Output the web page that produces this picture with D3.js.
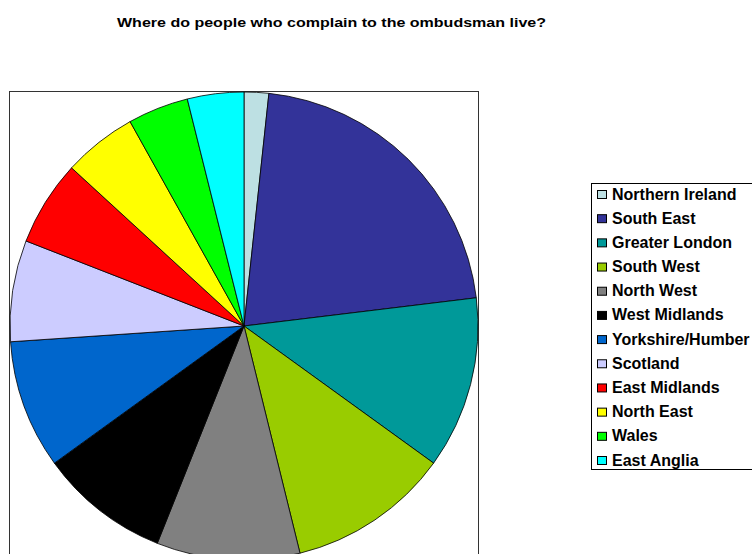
<!DOCTYPE html>
<html>
<head>
<meta charset="utf-8">
<script src="https://cdn.jsdelivr.net/npm/d3@7"></script>
<style>
  body { margin: 0; background: #fff; }
  svg { display: block; font-family: "Liberation Sans", Arial, sans-serif; }
</style>
</head>
<body>
<div id="chart"></div>
<script>
const chartTitle = "Where do people who complain to the ombudsman live?"

// regions, in the order the slices run clockwise from 12 o'clock
const regions = ["Northern Ireland", "South East", "Greater London", "South West",
  "North West", "West Midlands", "Yorkshire/Humber", "Scotland",
  "East Midlands", "North East", "Wales", "East Anglia"]

// share of complaints, percent
const shares = [1.7, 21.4, 11.9, 11.2, 9.9, 9.0, 8.9, 7.0, 5.9, 5.1, 4.2, 3.9]

const sliceColors = ["#bde0e3", "#333399", "#009999", "#99cc00", "#808080", "#000000",
  "#0066cc", "#ccccff", "#ff0000", "#ffff00", "#00ff00", "#00ffff"]

const width = 752
const height = 554

const svg = d3.select("#chart").append("svg")
    .attr("width", width)
    .attr("height", height)

// the original title is drawn a bit wide, so stretch it to the same span
svg.append("text")
    .attr("x", 117)
    .attr("y", 27)
    .attr("textLength", 429)
    .attr("lengthAdjust", "spacingAndGlyphs")
    .style("font-size", "13.5px")
    .style("font-weight", "bold")
    .text(chartTitle)

// plot area box
const plot = { left: 9.5, top: 91.5, right: 478.5, bottom: 600 }
svg.append("rect")
    .attr("x", plot.left)
    .attr("y", plot.top)
    .attr("width", plot.right - plot.left)
    .attr("height", plot.bottom - plot.top)
    .attr("fill", "#fff")
    .attr("stroke", "#333")
    .attr("stroke-width", 1)

const cx = 244, cy = 326, radius = 234

const color = d3.scaleOrdinal().domain(regions).range(sliceColors)

const pie = d3.pie().sort(null).value(function(d) { return d.value })
const arc = d3.arc().innerRadius(0).outerRadius(radius)

const data = regions.map(function(r, i) { return { name: r, value: shares[i] } })

svg.append("g")
    .attr("transform", "translate(" + cx + "," + cy + ")")
  .selectAll("path")
  .data(pie(data))
  .enter().append("path")
    .attr("d", arc)
    .attr("fill", function(d) { return color(d.data.name) })
    .attr("stroke", "#000")
    .attr("stroke-width", 0.8)

// legend
svg.append("rect")
    .attr("x", 591.5)
    .attr("y", 183.5)
    .attr("width", 200)
    .attr("height", 286)
    .attr("fill", "#fff")
    .attr("stroke", "#000")
    .attr("stroke-width", 1)

const rowY = d3.scalePoint().domain(regions).range([194, 460])

const item = svg.selectAll(".legend-item")
  .data(regions)
  .enter().append("g")
    .attr("class", "legend-item")
    .attr("transform", function(d) { return "translate(0," + rowY(d) + ")" })

item.append("rect")
    .attr("x", 597.5)
    .attr("y", -3.5)
    .attr("width", 9)
    .attr("height", 8)
    .attr("fill", function(d) { return color(d) })
    .attr("stroke", "#000")
    .attr("stroke-width", 1)

item.append("text")
    .attr("x", 612)
    .attr("y", 5.5)
    .style("font-size", "16px")
    .style("font-weight", "bold")
    .text(function(d) { return d })
</script>
</body>
</html>
